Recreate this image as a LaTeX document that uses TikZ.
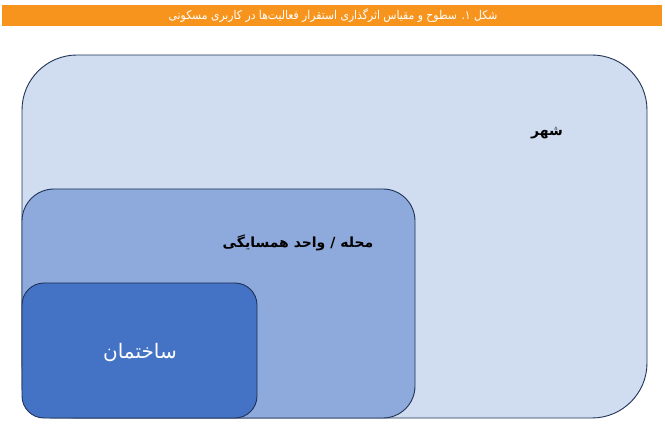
\documentclass[tikz,border=0pt]{standalone}
\usepackage{fontspec}
\usepackage{xcolor}
\usetikzlibrary{positioning}
\TeXXeTstate=1
\newfontfamily\arabicfont[Script=Arabic]{DejaVu Sans}
\newfontfamily\titlefont[Script=Arabic]{DejaVu Sans Condensed}
\definecolor{barorange}{HTML}{F7941D}
\definecolor{edgeblue}{HTML}{1F3358}
\definecolor{cityblue}{HTML}{D0DDF0}
\definecolor{hoodblue}{HTML}{8EA9DB}
\definecolor{housblue}{HTML}{4472C4}

\begin{document}
\begin{tikzpicture}[x=1pt, y=-1pt,
  level/.style={draw=edgeblue, line width=0.9pt, inner sep=0pt, outer sep=0pt,
                anchor=south west},
  lbl/.style={font=\arabicfont\bfseries\fontsize{14}{16}\selectfont, text=black},
]
\useasboundingbox (0,0) rectangle (665,433);

% Title bar
\node[fill=barorange, minimum width=660pt, minimum height=21pt, inner sep=0pt,
      anchor=north west] (bar) at (2,5) {};
\node[font=\titlefont\fontsize{12}{14}\selectfont, text=white] (title) at (333,15.5)
  {\beginR شکل ۱. سطوح و مقیاس اثرگذاری استقرار فعالیت‌ها در کاربری مسکونی\endR};

% Nested levels
\node[level, fill=cityblue, rounded corners=55pt,
      minimum width=625pt, minimum height=363pt] (city) at (22,418) {};
\node[level, fill=hoodblue, rounded corners=32pt,
      minimum width=393pt, minimum height=229pt] (hood) at (22,418) {};
\node[level, fill=housblue, rounded corners=22pt,
      minimum width=235pt, minimum height=135pt] (house) at (22,418) {};

% Labels
\node[lbl] (citylbl) at (547,133) {\beginR شهر\endR};
\node[lbl] (hoodlbl) at (298,243) {\beginR محله / واحد همسایگی\endR};
\node[font=\arabicfont\fontsize{20}{24}\selectfont, text=white] (houselbl) at (140,353)
  {\beginR ساختمان\endR};
\end{tikzpicture}
\end{document}
